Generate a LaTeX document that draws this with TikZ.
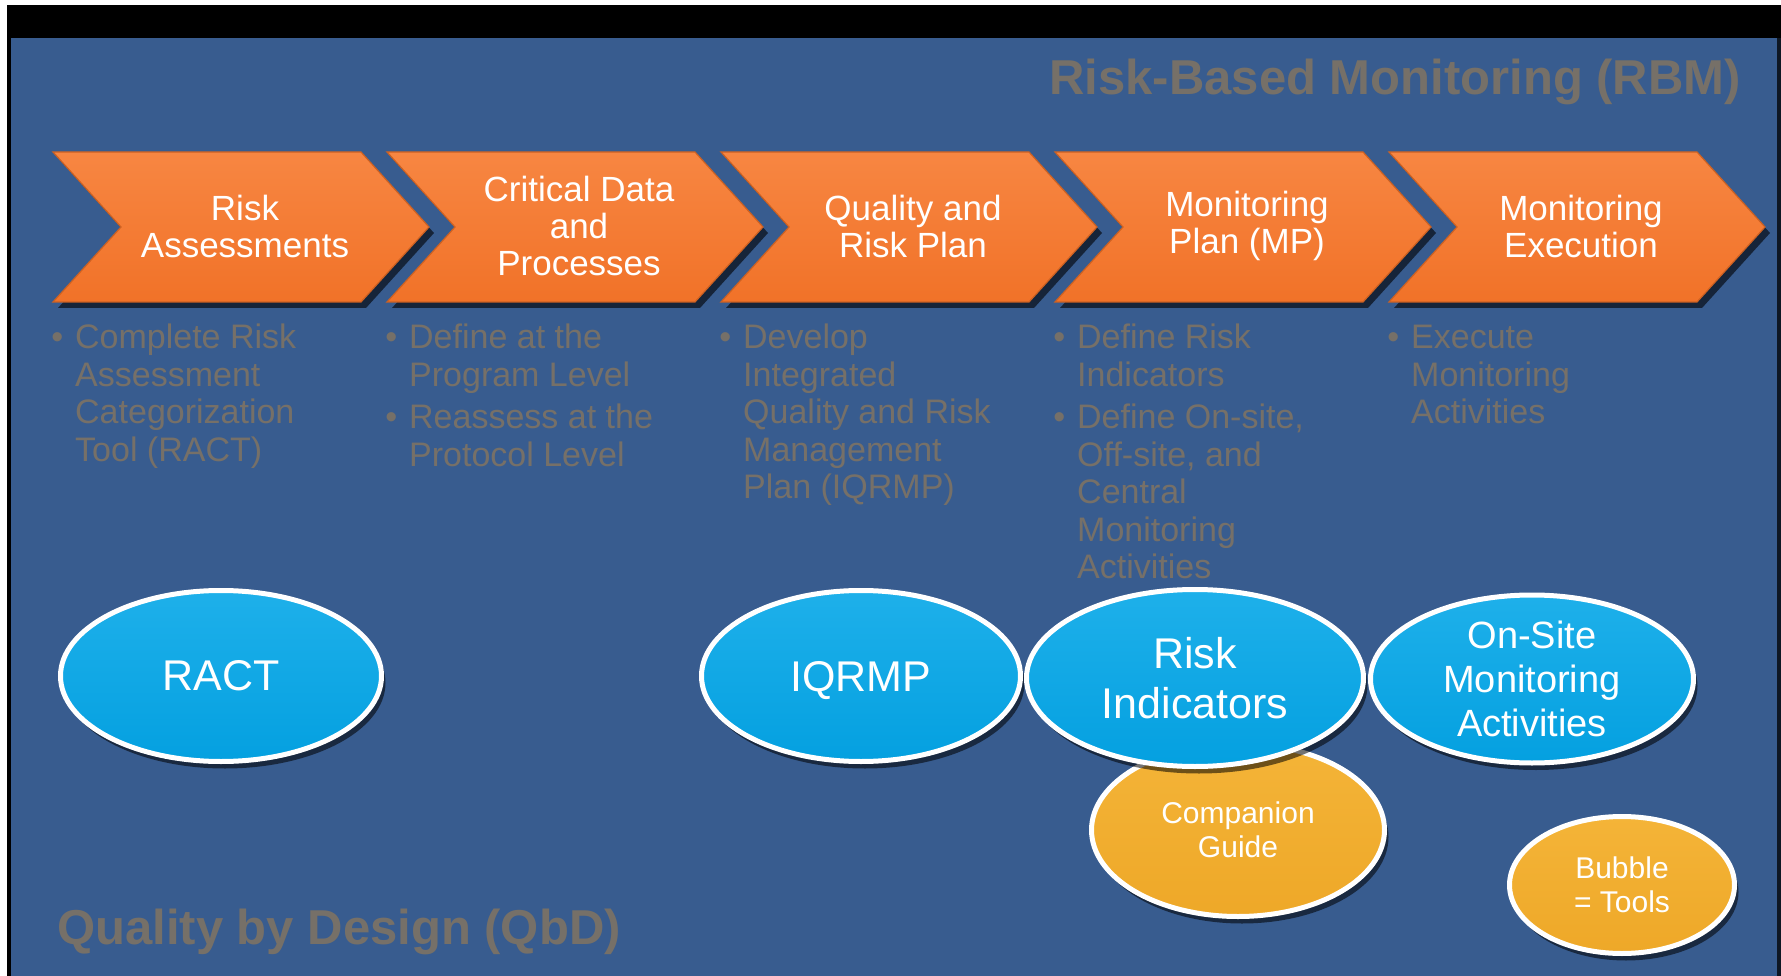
\documentclass[tikz,border=0pt]{standalone}
\usepackage{fontspec}
\setmainfont{Liberation Sans}
\usetikzlibrary{positioning,calc,shapes.geometric,shadows}

\definecolor{rbmblue}{RGB}{56,92,143}
\definecolor{chevorange}{RGB}{241,114,40}
\definecolor{chevtop}{RGB}{247,134,66}
\definecolor{toolblue}{RGB}{4,160,224}
\definecolor{toolbluetop}{RGB}{30,176,234}
\definecolor{toolgold}{RGB}{238,168,40}
\definecolor{toolgoldtop}{RGB}{244,180,56}
\definecolor{dimtext}{RGB}{118,112,104}

\newcommand\bitem{\llap{\textbullet\hspace{12pt}}}

\tikzset{
  chev/.style={top color=chevtop, bottom color=chevorange, draw=chevorange!85!black,
    line width=1.2pt, drop shadow={shadow xshift=5pt, shadow yshift=-6pt, opacity=.6, fill=black}},
  steptext/.style={text=white, align=center, inner sep=0pt, font=\fontsize{35}{37}\selectfont},
  notes/.style={text=dimtext, align=left, anchor=north west, inner sep=0pt, font=\fontsize{34}{37.5}\selectfont},
  heading/.style={text=dimtext, inner sep=0pt, font=\bfseries\fontsize{49}{55}\selectfont},
  tool/.style={ellipse, draw=white, line width=5pt, text=white, align=center, inner sep=0pt,
    top color=toolbluetop, bottom color=toolblue,
    drop shadow={shadow xshift=4pt, shadow yshift=-7pt, opacity=.55, fill=black}},
  goldtool/.style={tool, top color=toolgoldtop, bottom color=toolgold},
}

\begin{document}
\begin{tikzpicture}[x=1pt, y=-1pt]
	\useasboundingbox (0,0) rectangle (1781,976);
	% frame and slide background
	\fill[white] (0,0) rectangle (1781,976);
	\fill[black] (7,5) rectangle (1781,38);
	\fill[black] (7,5) rectangle (11,976);
	\fill[rbmblue] (11,38) rectangle (1777,976);
	\fill[black!75!rbmblue] (1777,38) rectangle (1781,976);

	\node[heading, anchor=base east] (rbm) at (1741,95) {Risk-Based Monitoring (RBM)};
	\node[heading, anchor=base west] (qbd) at (57,944) {Quality by Design (QbD)};

	% process steps
	\foreach \i/\lbl in {0/{Risk\\Assessments}, 1/{Critical Data\\and\\Processes},
	    2/{Quality and\\Risk Plan}, 3/{Monitoring\\Plan (MP)}, 4/{Monitoring\\Execution}} {
		\pgfmathsetmacro\x{53+334*\i}
		\draw[chev] (\x,152) -- ++(308,0) -- ++(68,75) -- ++(-68,75) -- ++(-308,0) -- ++(68,-75) -- cycle;
		\node[steptext] (step\i) at (\x+192,226) {\lbl};
	}

	% bullet notes under each step
	\node[notes] (n0) at (75,324) {\bitem Complete Risk\\Assessment\\Categorization\\Tool (RACT)};
	\node[notes] (n1) at (409,324) {\bitem Define at the\\Program Level\\[5pt]\bitem Reassess at the\\Protocol Level};
	\node[notes] (n2) at (743,324) {\bitem Develop\\Integrated\\Quality and Risk\\Management\\Plan (IQRMP)};
	\node[notes] (n3) at (1077,324) {\bitem Define Risk\\Indicators\\[5pt]\bitem Define On-site,\\Off-site, and\\Central\\Monitoring\\Activities};
	\node[notes] (n4) at (1411,325) {\bitem Execute\\Monitoring\\Activities};

	% tools
	\node[goldtool, minimum width=293pt, minimum height=173pt, font=\fontsize{30}{34}\selectfont]
		(guide) at (1238,830) {Companion\\Guide};
	\node[tool, minimum width=321pt, minimum height=171pt, font=\fontsize{43}{50}\selectfont]
		(ract) at (221,676) {RACT};
	\node[tool, minimum width=319pt, minimum height=171pt, text depth=0pt, font=\fontsize{43}{50}\selectfont]
		(iqrmp) at (861,676) {IQRMP};
	\node[tool, minimum width=337pt, minimum height=177pt, font=\fontsize{43}{50}\selectfont]
		(ri) at (1195,678) {Risk\\Indicators};
	\node[tool, minimum width=323pt, minimum height=168pt, font=\fontsize{38}{44}\selectfont]
		(onsite) at (1532,679) {On-Site\\Monitoring\\Activities};
	\node[goldtool, minimum width=225pt, minimum height=137pt, font=\fontsize{30}{34}\selectfont]
		(legend) at (1622,885) {Bubble\\= Tools};
\end{tikzpicture}
\end{document}
